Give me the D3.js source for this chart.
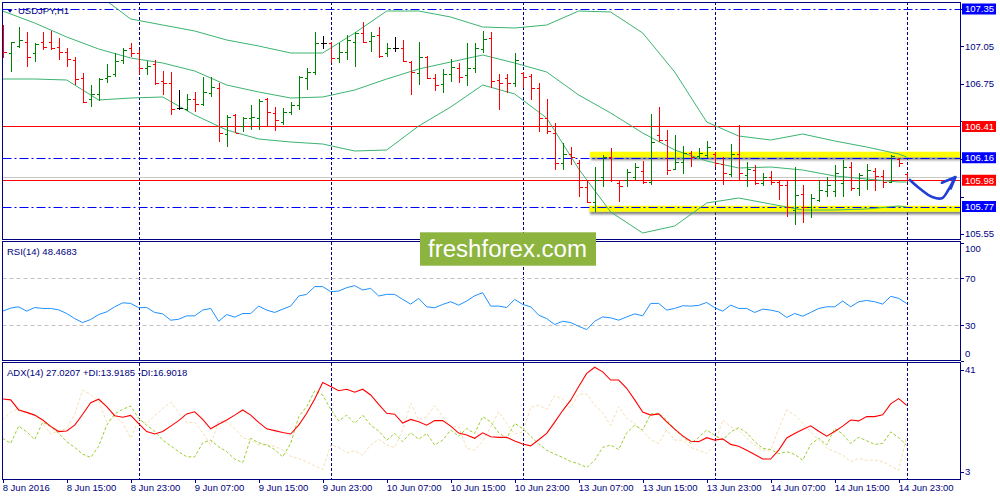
<!DOCTYPE html>
<html><head><meta charset="utf-8">
<script src="https://cdn.jsdelivr.net/npm/d3@7/dist/d3.min.js"></script>
<style>html,body{margin:0;padding:0;background:#fff;overflow:hidden}svg{display:block}text{font-family:"Liberation Sans",Arial,sans-serif}</style>
</head><body>
<svg id="chart" width="1000" height="500"></svg>
<script>
// ---------------- DATA ----------------
const symbolTitle = "USDJPY,H1";
const rsiTitle = "RSI(14) 48.4683";
const adxTitle = "ADX(14) 27.0207 +DI:13.9185 -DI:16.9018";

const tickLabels = ["8 Jun 2016","8 Jun 15:00","8 Jun 23:00","9 Jun 07:00","9 Jun 15:00","9 Jun 23:00","10 Jun 07:00","10 Jun 15:00","10 Jun 23:00","13 Jun 07:00","13 Jun 15:00","13 Jun 23:00","14 Jun 07:00","14 Jun 15:00","14 Jun 23:00"];
const tickBars = [0,8,16,24,32,40,48,56,64,72,80,88,96,104,112];
const daySeparatorBars = [17,41,65,89,113];

const open = [107.182,106.998,107.054,107.086,106.998,107.086,107.086,107.046,107.006,106.942,
106.798,106.630,106.670,106.798,106.830,106.942,107.038,106.998,106.878,106.910,
106.774,106.758,106.558,106.550,106.630,106.590,106.678,106.718,106.350,106.502,
106.414,106.478,106.478,106.630,106.518,106.446,106.526,106.582,106.798,106.846,
107.078,107.078,106.958,107.006,107.086,107.158,107.094,107.142,106.998,107.038,
107.038,106.926,106.838,106.966,106.798,106.750,106.830,106.878,106.822,106.878,
107.030,107.118,106.782,106.798,106.758,106.838,106.814,106.718,106.478,106.358,
106.118,106.190,106.118,105.926,105.806,106.006,106.166,105.958,105.982,106.006,
106.054,105.966,106.342,106.302,106.070,106.126,106.198,106.174,106.182,106.190,
106.110,106.030,106.190,106.022,106.062,105.958,106.006,105.966,105.942,105.742,
105.870,105.766,105.822,105.894,105.894,105.958,106.086,105.918,105.982,106.054,
106.014,105.966,106.150,106.030];
const high = [107.222,107.086,107.206,107.166,107.078,107.166,107.174,107.118,107.038,106.966,
106.838,106.742,106.798,106.910,106.998,107.038,107.078,107.022,106.934,106.942,
106.854,106.846,106.702,106.670,106.686,106.806,106.806,106.758,106.502,106.510,
106.486,106.582,106.630,106.638,106.566,106.558,106.606,106.814,106.878,107.166,
107.134,107.086,107.078,107.142,107.166,107.246,107.166,107.206,107.078,107.126,
107.102,106.934,107.086,106.974,106.830,106.870,106.950,106.918,107.078,107.078,
107.174,107.166,106.830,106.830,106.998,106.846,106.830,106.758,106.630,106.438,
106.278,106.246,106.142,105.982,106.086,106.182,106.238,105.982,106.070,106.118,
106.134,106.510,106.566,106.382,106.342,106.254,106.214,106.238,106.294,106.206,
106.166,106.270,106.422,106.126,106.102,106.038,106.054,105.982,105.982,106.086,
105.942,105.870,105.982,106.006,106.102,106.142,106.126,106.038,106.110,106.078,
106.062,106.182,106.158,106.038];
const low = [106.958,106.846,107.038,106.886,106.926,107.022,107.022,106.942,106.886,106.742,
106.598,106.566,106.614,106.758,106.806,106.910,106.966,106.830,106.822,106.742,
106.662,106.502,106.542,106.534,106.526,106.574,106.646,106.286,106.246,106.358,
106.366,106.382,106.382,106.414,106.374,106.422,106.502,106.542,106.702,106.822,
107.030,106.918,106.918,106.942,106.886,107.078,107.006,106.958,106.966,107.006,
106.926,106.662,106.742,106.790,106.694,106.678,106.766,106.758,106.734,106.838,
106.998,106.718,106.542,106.678,106.726,106.718,106.622,106.366,106.350,106.062,
106.062,106.102,105.846,105.798,105.726,105.926,105.966,105.806,105.926,105.982,
105.950,105.942,106.286,106.022,106.062,106.030,106.086,106.150,106.158,106.086,
105.942,106.006,105.982,105.926,105.942,105.934,105.942,105.822,105.686,105.622,
105.638,105.678,105.806,105.846,105.846,105.846,105.894,105.854,105.902,105.894,
105.918,105.958,106.086,105.966];
const close = [107.006,107.086,107.102,106.966,107.070,107.046,107.038,107.006,106.950,106.790,
106.606,106.670,106.790,106.814,106.934,107.022,106.998,106.878,106.894,106.758,
106.758,106.550,106.558,106.630,106.590,106.686,106.726,106.358,106.486,106.358,
106.478,106.486,106.614,106.526,106.462,106.526,106.582,106.806,106.846,107.078,
107.078,106.958,107.006,107.102,107.158,107.086,107.134,106.974,107.038,107.038,
106.934,106.846,106.966,106.798,106.742,106.830,106.886,106.806,106.878,107.038,
107.110,106.774,106.758,106.758,106.942,106.806,106.718,106.478,106.374,106.118,
106.190,106.166,105.926,105.806,105.982,106.166,105.982,105.934,106.046,106.086,
105.966,106.286,106.302,106.062,106.126,106.198,106.166,106.198,106.246,106.118,
106.038,106.190,106.038,106.070,105.958,106.006,105.966,105.942,105.766,105.862,
105.766,105.838,105.902,105.942,106.038,106.086,105.918,106.022,106.062,106.014,
105.966,106.174,106.118,105.982];

// Bollinger bands read every 4th bar (plus the last bar)
const bandBars = [0,4,8,12,16,20,24,28,32,36,40,44,48,52,56,60,64,68,72,76,80,84,88,92,96,100,104,108,112,113];
const bandUpper = [107.900,107.782,107.622,107.462,107.270,107.222,107.174,107.102,107.054,106.998,106.998,107.158,107.334,107.334,107.286,107.206,107.198,107.222,107.334,107.326,107.158,106.846,106.446,106.334,106.302,106.350,106.294,106.246,106.190,106.166];
const bandMiddle = [107.334,107.238,107.126,107.030,106.958,106.918,106.854,106.742,106.686,106.638,106.646,106.702,106.790,106.870,106.926,106.982,106.918,106.846,106.662,106.518,106.358,106.222,106.134,106.078,106.086,106.062,106.014,105.990,105.966,105.966];
const bandLower = [106.790,106.790,106.782,106.622,106.638,106.646,106.502,106.382,106.310,106.286,106.270,106.214,106.222,106.414,106.566,106.742,106.670,106.478,106.070,105.726,105.558,105.614,105.798,105.838,105.790,105.742,105.742,105.750,105.774,105.766];

const rsi = [42.0,44.6,45.7,42.0,45.1,44.3,44.3,43.1,40.0,35.7,
32.3,34.9,39.1,41.4,45.7,49.1,48.6,44.9,45.1,40.9,
39.7,34.3,35.1,38.0,38.0,42.9,44.3,33.4,39.1,36.9,
40.0,40.0,46.3,42.9,40.9,43.7,46.3,54.9,56.3,62.9,
62.9,58.6,59.1,62.0,63.7,60.0,61.4,54.9,56.3,56.3,
52.0,48.0,52.9,45.7,44.9,47.7,50.0,47.1,50.6,55.1,
57.7,46.3,46.3,45.1,52.0,47.7,45.7,38.6,35.7,30.6,
33.4,32.3,29.1,26.3,33.4,37.1,36.3,34.3,37.1,39.7,
38.0,48.6,48.6,42.9,44.3,46.6,46.3,46.9,49.4,44.9,
42.0,47.1,44.3,44.3,40.9,43.7,42.9,41.4,36.6,40.0,
37.7,40.9,44.3,45.7,45.7,50.6,45.7,50.0,51.1,50.0,
48.0,54.6,52.9,48.5];

const adx = [29.1,28.8,25.5,24.7,23.8,22.2,20.1,18.4,18.6,20.5,
24.1,27.9,29.0,26.6,23.6,23.1,23.7,21.0,18.4,17.6,
18.4,20.2,22.0,24.2,24.9,22.4,19.3,20.8,22.2,23.8,
25.5,23.8,21.4,19.3,18.7,18.1,17.6,20.5,24.4,29.1,
34.5,33.2,31.8,32.3,31.3,32.3,30.4,27.3,24.4,24.1,
21.2,22.4,21.6,20.5,22.0,22.0,20.2,17.9,17.3,16.2,
18.0,16.7,16.5,16.5,15.3,14.3,13.7,15.7,17.8,21.5,
25.3,28.7,33.2,37.5,39.5,38.0,35.3,35.3,32.6,28.8,
24.8,23.8,24.2,21.6,19.2,17.0,15.2,15.1,16.4,15.6,
16.0,14.2,13.6,12.3,10.9,9.4,9.4,12.3,16.3,17.8,
19.1,20.3,18.5,16.9,18.4,20.2,22.2,21.9,23.3,23.3,
23.9,27.5,29.2,27.0];
const plusDI = [16.2,14.5,20.2,18.3,15.8,21.5,20.0,17.8,15.1,13.2,
11.0,9.9,13.6,20.5,24.2,25.7,26.8,22.7,20.5,18.5,
15.6,13.7,11.8,10.1,10.1,14.7,15.6,13.4,11.8,9.4,
8.2,16.2,14.7,14.0,12.5,10.1,14.5,23.3,26.6,31.8,
30.4,25.7,21.9,23.8,21.1,23.8,20.5,18.6,15.6,17.8,
15.1,18.0,15.9,17.8,14.0,15.6,18.9,16.9,19.4,17.8,
23.3,21.6,18.0,16.2,21.1,19.4,16.9,14.3,12.3,11.0,
9.9,8.6,7.8,6.6,9.0,13.2,14.0,12.5,18.0,20.5,
18.9,24.2,24.4,22.2,19.1,16.7,14.5,16.5,18.9,17.2,
15.6,18.3,19.7,18.0,15.1,12.9,12.5,11.2,11.8,10.9,
9.0,14.2,16.2,14.0,19.4,17.6,14.5,16.5,15.4,14.2,
14.5,18.3,16.4,13.9];
const minusDI = [22.2,24.8,25.9,24.4,23.8,21.1,17.6,18.7,19.4,24.2,
32.0,30.6,28.2,21.6,23.3,21.3,16.2,22.4,21.1,23.6,
25.9,28.1,24.6,21.3,21.5,18.0,14.0,21.9,21.5,19.4,
16.4,15.6,14.0,14.0,13.6,12.3,10.3,9.5,8.5,7.1,
6.0,14.0,13.2,11.4,12.1,10.7,14.0,15.9,14.0,13.2,
19.1,27.7,22.2,23.3,26.9,23.3,20.0,20.0,12.9,12.3,
15.1,20.0,24.9,21.1,17.6,18.3,26.3,27.1,25.7,30.2,
29.0,26.2,30.7,30.7,27.1,24.6,20.4,26.6,22.7,21.1,
18.6,15.8,14.5,18.9,15.6,15.6,13.2,12.3,11.2,14.0,
22.2,20.0,18.9,16.2,14.0,12.3,12.3,19.4,25.5,23.8,
21.1,18.3,15.6,12.9,11.8,10.7,8.5,9.6,9.0,9.0,
8.5,7.1,5.7,16.9];

// price scale ticks (those lying under a boxed level label get only a tick mark)
const priceTicks = [107.35,107.05,106.75,106.45,106.15,105.85,105.55];
const redLevels = [106.41,105.98];
const blueLevels = [107.35,106.16,105.77];
const askLevel = 106.007;
const rsiTicks = [100,70,30,0];
const rsiLevels = [70,30];
const adxTicks = [41,3];

const zoneTop = [106.208,105.776];
const zoneBottom = [106.163,105.728];
const zoneStartBar = [73.4,73.3];

const arrowPath = [[113.4,105.982],[114.7,105.910],[116.2,105.846],[117.4,105.836],[118.2,105.902],[119.0,106.000]];
const arrowHead = [[117.4,105.960],[119.1,106.006],[118.5,105.915]];

const watermark = "freshforex.com";

// ---------------- LAYOUT ----------------
const NAVY = "#000080", GREEN = "#008000", RED = "#ff0000", BLUE = "#0000ff";
const L = 2.5, R = 960.5;
const P = {main:[2, 239.5], rsi:[241.5, 360.5], adx:[362.5, 479]};

const svg = d3.select("#chart");
const x = d3.scaleLinear().domain([0, 113]).range([2.7, 906.7]);
const yP = d3.scaleLinear().domain([105.55, 107.35]).range([234, 9]);
const yR = d3.scaleLinear().domain([0, 100]).range([360.5, 243]);
const yA = d3.scaleLinear().domain([3, 41]).range([478.5, 362.7]);
const px = i => Math.round(x(i)) + 0.5;

const defs = svg.append("defs");
Object.entries(P).forEach(([k,[t,b]]) => {
  defs.append("clipPath").attr("id","clip-"+k).append("rect")
    .attr("x", L).attr("y", t).attr("width", R-L).attr("height", b-t);
});
const f = defs.append("filter").attr("id","shadow").attr("x","-5%").attr("y","-50%").attr("width","110%").attr("height","250%");
f.append("feDropShadow").attr("dx",1).attr("dy",2.5).attr("stdDeviation",1.2).attr("flood-color","#555").attr("flood-opacity",0.75);

svg.append("rect").attr("width",1000).attr("height",500).attr("fill","#fff");

const gMain = svg.append("g").attr("clip-path","url(#clip-main)");
const gRsi = svg.append("g").attr("clip-path","url(#clip-rsi)");
const gAdx = svg.append("g").attr("clip-path","url(#clip-adx)");

// day separators
[["main",gMain],["rsi",gRsi],["adx",gAdx]].forEach(([k,g]) => {
  g.selectAll("line.sep").data(daySeparatorBars).join("line")
    .attr("x1", px).attr("x2", px).attr("y1", P[k][0]).attr("y2", P[k][1])
    .attr("stroke", NAVY).attr("stroke-width",1).attr("stroke-dasharray","3,2")
    .attr("shape-rendering","crispEdges");
});

// ----- main panel -----
gMain.selectAll("rect.zone").data(zoneTop).join("rect")
  .attr("x", (d,i) => x(zoneStartBar[i])).attr("width", (d,i) => R - x(zoneStartBar[i]))
  .attr("y", d => yP(d)).attr("height", (d,i) => yP(zoneBottom[i]) - yP(d))
  .attr("fill","#ffff00").attr("filter","url(#shadow)");

gMain.append("line").attr("x1",L).attr("x2",R).attr("y1",Math.round(yP(askLevel))+0.5).attr("y2",Math.round(yP(askLevel))+0.5)
  .attr("stroke","#c8c8c8").attr("stroke-width",1);

gMain.selectAll("line.red").data(redLevels).join("line")
  .attr("x1",L).attr("x2",R).attr("y1",d=>Math.round(yP(d))+0.5).attr("y2",d=>Math.round(yP(d))+0.5)
  .attr("stroke",RED).attr("stroke-width",1.2);
gMain.selectAll("line.blue").data(blueLevels).join("line")
  .attr("x1",L).attr("x2",R).attr("y1",d=>Math.round(yP(d))+0.5).attr("y2",d=>Math.round(yP(d))+0.5)
  .attr("stroke",BLUE).attr("stroke-width",1.2).attr("stroke-dasharray","9,3,2,3");

const bandLine = d3.line().x(d=>x(d[0])).y(d=>yP(d[1]));
[bandUpper, bandMiddle, bandLower].forEach(arr => {
  gMain.append("path").datum(bandBars.map((b,i)=>[b,arr[i]])).attr("d", bandLine)
    .attr("fill","none").attr("stroke","#3cb371").attr("stroke-width",1);
});

const barColor = i => close[i] > open[i] ? GREEN : (close[i] < open[i] ? RED : "#000");
const bars = gMain.selectAll("g.bar").data(d3.range(open.length)).join("g")
  .attr("stroke", barColor).attr("stroke-width",1).attr("shape-rendering","crispEdges");
bars.append("line").attr("x1",px).attr("x2",px).attr("y1",i=>yP(high[i])).attr("y2",i=>yP(low[i]));
bars.append("line").attr("x1",i=>px(i)-3).attr("x2",px).attr("y1",i=>Math.round(yP(open[i]))+0.5).attr("y2",i=>Math.round(yP(open[i]))+0.5);
bars.append("line").attr("x1",px).attr("x2",i=>px(i)+3).attr("y1",i=>Math.round(yP(close[i]))+0.5).attr("y2",i=>Math.round(yP(close[i]))+0.5);

const arrowLine = d3.line().x(d=>x(d[0])).y(d=>yP(d[1])).curve(d3.curveCatmullRom);
svg.append("path").datum(arrowPath).attr("d", arrowLine).attr("fill","none")
  .attr("stroke","#1f3fd6").attr("stroke-width",2.6).attr("stroke-linecap","round").attr("stroke-linejoin","round");
svg.append("path").datum(arrowHead).attr("d", d3.line().x(d=>x(d[0])).y(d=>yP(d[1]))).attr("fill","none")
  .attr("stroke","#1f3fd6").attr("stroke-width",2.6).attr("stroke-linecap","round").attr("stroke-linejoin","round");

// ----- RSI panel -----
gRsi.selectAll("line.lvl").data(rsiLevels).join("line")
  .attr("x1",L).attr("x2",R).attr("y1",d=>Math.round(yR(d))+0.5).attr("y2",d=>Math.round(yR(d))+0.5)
  .attr("stroke","#c0c0c0").attr("stroke-dasharray","4,3");
gRsi.append("path").datum(rsi).attr("d", d3.line().x((d,i)=>x(i)).y(d=>yR(d)))
  .attr("fill","none").attr("stroke","#1e90ff").attr("stroke-width",1);

// ----- ADX panel -----
const aLine = d3.line().x((d,i)=>x(i)).y(d=>yA(d));
gAdx.append("path").datum(minusDI).attr("d", aLine).attr("fill","none").attr("stroke","#f5deb3").attr("stroke-width",1).attr("stroke-dasharray","3,2");
gAdx.append("path").datum(plusDI).attr("d", aLine).attr("fill","none").attr("stroke","#9acd32").attr("stroke-width",1).attr("stroke-dasharray","3,2");
gAdx.append("path").datum(adx).attr("d", aLine).attr("fill","none").attr("stroke",RED).attr("stroke-width",1.1);

// ----- borders -----
Object.values(P).forEach(([t,b]) => {
  svg.append("rect").attr("x",L).attr("y",t).attr("width",R-L).attr("height",b-t)
    .attr("fill","none").attr("stroke",NAVY).attr("stroke-width",1).attr("shape-rendering","crispEdges");
});

// ----- right axes -----
const axisText = (y, t) => svg.append("text").attr("x",965).attr("y",y).attr("dy","0.35em")
  .attr("font-size","9.5px").attr("fill",NAVY).text(t);
const axisTick = y => svg.append("line").attr("x1",R).attr("x2",R+3).attr("y1",Math.round(y)+0.5).attr("y2",Math.round(y)+0.5)
  .attr("stroke",NAVY).attr("shape-rendering","crispEdges");

const boxed = redLevels.concat(blueLevels);
priceTicks.forEach(v => {
  axisTick(yP(v));
  const covered = boxed.some(b => Math.abs(yP(b) - yP(v)) < 11);
  if (!covered) axisText(yP(v), v.toFixed(2));
});
const label = (v, col) => {
  const y = yP(v);
  svg.append("rect").attr("x",962).attr("y",y-5.5).attr("width",34).attr("height",11).attr("fill",col);
  svg.append("text").attr("x",965).attr("y",y).attr("dy","0.36em").attr("font-size","9.5px").attr("fill","#fff").text(v.toFixed(2));
};
redLevels.forEach(v => label(v, RED));
blueLevels.forEach(v => label(v, BLUE));

const clampY = (y,[t,b]) => Math.max(t+7, Math.min(b-7, y));
rsiTicks.forEach(v => { axisTick(yR(v)); axisText(clampY(yR(v),P.rsi), v); });
adxTicks.forEach(v => { axisTick(clampY(yA(v),P.adx)); axisText(clampY(yA(v),P.adx), v); });

// ----- time axis -----
tickBars.forEach((b,k) => {
  svg.append("line").attr("x1",px(b)).attr("x2",px(b)).attr("y1",P.adx[1]).attr("y2",P.adx[1]+4)
    .attr("stroke",NAVY).attr("shape-rendering","crispEdges");
  svg.append("text").attr("x",x(b)).attr("y",491).attr("font-size","9.5px").attr("fill",NAVY).text(tickLabels[k]);
});

// ----- titles -----
svg.append("path").attr("d","M7.5,9.5 L12.5,9.5 L10,12.8 Z").attr("fill",NAVY);
svg.append("text").attr("x",18).attr("y",14).attr("font-size","9.5px").attr("fill",NAVY).text(symbolTitle);
svg.append("text").attr("x",7).attr("y",255).attr("font-size","9.5px").attr("fill",NAVY).text(rsiTitle);
svg.append("text").attr("x",7).attr("y",375.5).attr("font-size","9.5px").attr("fill",NAVY).text(adxTitle);

// ----- watermark -----
svg.append("rect").attr("x",420).attr("y",232.3).attr("width",176).attr("height",33.4).attr("fill","#8cb43f");
svg.append("text").attr("x",428).attr("y",256.5).attr("font-family","'Open Sans',sans-serif").attr("font-size","23px")
  .attr("fill","#fff").attr("textLength",159).attr("lengthAdjust","spacingAndGlyphs").text(watermark);
</script>
</body></html>
